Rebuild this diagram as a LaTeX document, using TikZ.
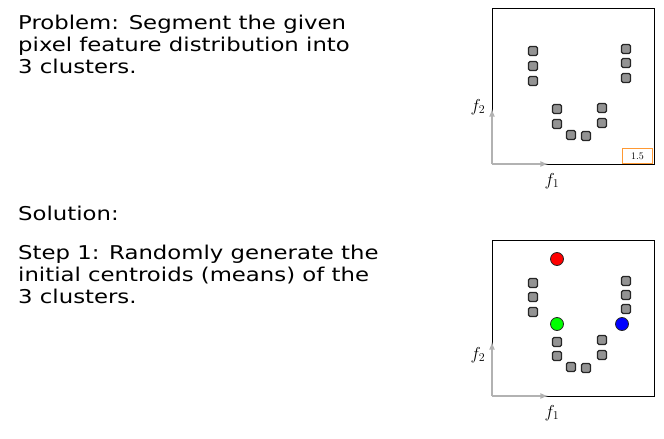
\documentclass[tikz,border=0pt]{standalone}
\usepackage{fontspec}
\setmainfont[FakeStretch=1.2]{DejaVu Sans}
\newfontfamily\serifcm{Latin Modern Roman}
\begin{document}
\begin{tikzpicture}[x=1pt,y=-1pt,
  pt/.style={draw=black!85,fill=gray!85,rounded corners=1.5pt,minimum size=9pt,inner sep=0pt,line width=1.1pt},
  cen/.style={circle,draw=black!85,minimum size=13pt,inner sep=0pt,line width=0.8pt},
  ax/.style={gray!60,line width=1.6pt,-latex},
  txt/.style={anchor=west,font=\fontsize{19}{22}\selectfont,align=left,inner sep=0pt},
  lbl/.style={font=\fontsize{17}{17}\selectfont,inner sep=0pt}]
\useasboundingbox (0,0) rectangle (664,439);
\node[txt,anchor=north west] (t1) at (18,15) {Problem: Segment the given\\pixel feature distribution into\\3 clusters.};
\node[txt] (t2) at (18,213) {Solution:};
\node[txt,anchor=north west] (t3) at (18,245) {Step 1: Randomly generate the\\initial centroids (means) of the\\3 clusters.};
% panel 1
\draw[line width=1pt] (492,8) rectangle (654,164);
\node[draw=orange!80,line width=0.8pt,minimum width=30pt,minimum height=15pt,inner sep=0pt,anchor=south east,font=\serifcm\fontsize{10}{10}\selectfont] (sc) at (653,164) {1.5};
\coordinate (o1) at (492,164);
\coordinate (y1) at (492,109);
\coordinate (x1) at (548,164);
\draw[ax] (o1) -- (y1);
\draw[ax] (o1) -- (x1);
\node[lbl] (f21) at (478,107) {$f_2$};
\node[lbl] (f11) at (552,181) {$f_1$};
\foreach \p [count=\i] in {(533,51),(533,66),(533,81),(626,49),(626,63),(626,78),(557,109),(557,124),(602,108),(602,123),(571,135),(586,136)}
  \node[pt] (a\i) at \p {};
% panel 2
\draw[line width=1pt] (492,240) rectangle (654,396);
\coordinate (o2) at (492,396);
\coordinate (y2) at (492,342);
\coordinate (x2) at (548,396);
\draw[ax] (o2) -- (y2);
\draw[ax] (o2) -- (x2);
\node[lbl] (f22) at (478,355) {$f_2$};
\node[lbl] (f12) at (552,413) {$f_1$};
\foreach \p [count=\i] in {(533,283),(533,297),(533,312),(626,281),(626,295),(626,309),(557,342),(557,356),(602,340),(602,355),(571,367),(586,368)}
  \node[pt] (b\i) at \p {};
\node[cen,fill=red] (cr) at (557,259) {};
\node[cen,fill=green] (cg) at (557,324) {};
\node[cen,fill=blue] (cb) at (622,324) {};
\end{tikzpicture}
\end{document}
